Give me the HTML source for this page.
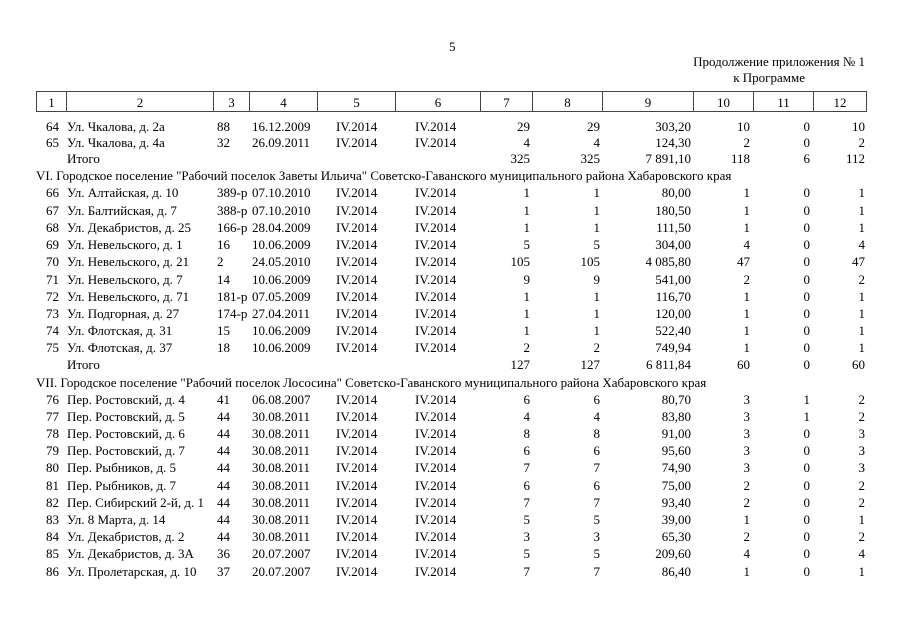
<!DOCTYPE html>
<html><head><meta charset="utf-8"><style>
body{margin:0;width:905px;height:640px;background:#fff;position:relative;font-family:"Liberation Serif",serif;font-size:13px;color:#000;overflow:hidden}
.a{position:absolute;white-space:nowrap;line-height:14px}
.r{position:absolute;left:0;width:905px;height:14px}
.r span{position:absolute;top:0;line-height:14px;white-space:nowrap}
.c1{left:30px;width:29px;text-align:right}.c2{left:67px}.c3{left:217px}.c4{left:252px}.c5{left:336px}.c6{left:415px}
.c7{left:478px;width:52px;text-align:right}.c8{left:532px;width:68px;text-align:right}.c9{left:602px;width:89px;text-align:right}
.c10{left:693px;width:57px;text-align:right}.c11{left:753px;width:57px;text-align:right}.c12{left:813px;width:52px;text-align:right}
.hd{position:absolute;top:91px;height:21px;border:1px solid #444;border-right:none;text-align:center;line-height:21px;box-sizing:border-box}
</style></head><body>
<div class="a" style="left:449px;top:40px">5</div>
<div class="a" style="left:600px;width:265px;text-align:right;top:55px">Продолжение приложения № 1</div>
<div class="a" style="left:600px;width:265px;text-align:right;top:71px"><span style="margin-right:60px">к Программе</span></div>

<div class="hd" style="left:36px;width:30px">1</div>
<div class="hd" style="left:66px;width:147px">2</div>
<div class="hd" style="left:213px;width:36px">3</div>
<div class="hd" style="left:249px;width:68px">4</div>
<div class="hd" style="left:317px;width:78px">5</div>
<div class="hd" style="left:395px;width:85px">6</div>
<div class="hd" style="left:480px;width:52px">7</div>
<div class="hd" style="left:532px;width:70px">8</div>
<div class="hd" style="left:602px;width:91px">9</div>
<div class="hd" style="left:693px;width:60px">10</div>
<div class="hd" style="left:753px;width:60px">11</div>
<div class="hd" style="left:813px;width:54px;border-right:1px solid #444">12</div>

<div class="r" style="top:120px"><span class="c1">64</span><span class="c2">Ул. Чкалова, д. 2а</span><span class="c3">88</span><span class="c4">16.12.2009</span><span class="c5">IV.2014</span><span class="c6">IV.2014</span><span class="c7">29</span><span class="c8">29</span><span class="c9">303,20</span><span class="c10">10</span><span class="c11">0</span><span class="c12">10</span></div>
<div class="r" style="top:136px"><span class="c1">65</span><span class="c2">Ул. Чкалова, д. 4а</span><span class="c3">32</span><span class="c4">26.09.2011</span><span class="c5">IV.2014</span><span class="c6">IV.2014</span><span class="c7">4</span><span class="c8">4</span><span class="c9">124,30</span><span class="c10">2</span><span class="c11">0</span><span class="c12">2</span></div>
<div class="r" style="top:152px"><span class="c2">Итого</span><span class="c7">325</span><span class="c8">325</span><span class="c9">7 891,10</span><span class="c10">118</span><span class="c11">6</span><span class="c12">112</span></div>
<div class="a" style="left:36px;top:169px">VI. Городское поселение "Рабочий поселок Заветы Ильича" Советско-Гаванского муниципального района Хабаровского края</div>
<div class="r" style="top:186px"><span class="c1">66</span><span class="c2">Ул. Алтайская, д. 10</span><span class="c3">389-р</span><span class="c4">07.10.2010</span><span class="c5">IV.2014</span><span class="c6">IV.2014</span><span class="c7">1</span><span class="c8">1</span><span class="c9">80,00</span><span class="c10">1</span><span class="c11">0</span><span class="c12">1</span></div>
<div class="r" style="top:204px"><span class="c1">67</span><span class="c2">Ул. Балтийская, д. 7</span><span class="c3">388-р</span><span class="c4">07.10.2010</span><span class="c5">IV.2014</span><span class="c6">IV.2014</span><span class="c7">1</span><span class="c8">1</span><span class="c9">180,50</span><span class="c10">1</span><span class="c11">0</span><span class="c12">1</span></div>
<div class="r" style="top:221px"><span class="c1">68</span><span class="c2">Ул. Декабристов, д. 25</span><span class="c3">166-р</span><span class="c4">28.04.2009</span><span class="c5">IV.2014</span><span class="c6">IV.2014</span><span class="c7">1</span><span class="c8">1</span><span class="c9">111,50</span><span class="c10">1</span><span class="c11">0</span><span class="c12">1</span></div>
<div class="r" style="top:238px"><span class="c1">69</span><span class="c2">Ул. Невельского, д. 1</span><span class="c3">16</span><span class="c4">10.06.2009</span><span class="c5">IV.2014</span><span class="c6">IV.2014</span><span class="c7">5</span><span class="c8">5</span><span class="c9">304,00</span><span class="c10">4</span><span class="c11">0</span><span class="c12">4</span></div>
<div class="r" style="top:255px"><span class="c1">70</span><span class="c2">Ул. Невельского, д. 21</span><span class="c3">2</span><span class="c4">24.05.2010</span><span class="c5">IV.2014</span><span class="c6">IV.2014</span><span class="c7">105</span><span class="c8">105</span><span class="c9">4 085,80</span><span class="c10">47</span><span class="c11">0</span><span class="c12">47</span></div>
<div class="r" style="top:273px"><span class="c1">71</span><span class="c2">Ул. Невельского, д. 7</span><span class="c3">14</span><span class="c4">10.06.2009</span><span class="c5">IV.2014</span><span class="c6">IV.2014</span><span class="c7">9</span><span class="c8">9</span><span class="c9">541,00</span><span class="c10">2</span><span class="c11">0</span><span class="c12">2</span></div>
<div class="r" style="top:290px"><span class="c1">72</span><span class="c2">Ул. Невельского, д. 71</span><span class="c3">181-р</span><span class="c4">07.05.2009</span><span class="c5">IV.2014</span><span class="c6">IV.2014</span><span class="c7">1</span><span class="c8">1</span><span class="c9">116,70</span><span class="c10">1</span><span class="c11">0</span><span class="c12">1</span></div>
<div class="r" style="top:307px"><span class="c1">73</span><span class="c2">Ул. Подгорная, д. 27</span><span class="c3">174-р</span><span class="c4">27.04.2011</span><span class="c5">IV.2014</span><span class="c6">IV.2014</span><span class="c7">1</span><span class="c8">1</span><span class="c9">120,00</span><span class="c10">1</span><span class="c11">0</span><span class="c12">1</span></div>
<div class="r" style="top:324px"><span class="c1">74</span><span class="c2">Ул. Флотская, д. 31</span><span class="c3">15</span><span class="c4">10.06.2009</span><span class="c5">IV.2014</span><span class="c6">IV.2014</span><span class="c7">1</span><span class="c8">1</span><span class="c9">522,40</span><span class="c10">1</span><span class="c11">0</span><span class="c12">1</span></div>
<div class="r" style="top:341px"><span class="c1">75</span><span class="c2">Ул. Флотская, д. 37</span><span class="c3">18</span><span class="c4">10.06.2009</span><span class="c5">IV.2014</span><span class="c6">IV.2014</span><span class="c7">2</span><span class="c8">2</span><span class="c9">749,94</span><span class="c10">1</span><span class="c11">0</span><span class="c12">1</span></div>
<div class="r" style="top:358px"><span class="c2">Итого</span><span class="c7">127</span><span class="c8">127</span><span class="c9">6 811,84</span><span class="c10">60</span><span class="c11">0</span><span class="c12">60</span></div>
<div class="a" style="left:36px;top:376px">VII. Городское поселение "Рабочий поселок Лососина" Советско-Гаванского муниципального района Хабаровского края</div>
<div class="r" style="top:393px"><span class="c1">76</span><span class="c2">Пер. Ростовский, д. 4</span><span class="c3">41</span><span class="c4">06.08.2007</span><span class="c5">IV.2014</span><span class="c6">IV.2014</span><span class="c7">6</span><span class="c8">6</span><span class="c9">80,70</span><span class="c10">3</span><span class="c11">1</span><span class="c12">2</span></div>
<div class="r" style="top:410px"><span class="c1">77</span><span class="c2">Пер. Ростовский, д. 5</span><span class="c3">44</span><span class="c4">30.08.2011</span><span class="c5">IV.2014</span><span class="c6">IV.2014</span><span class="c7">4</span><span class="c8">4</span><span class="c9">83,80</span><span class="c10">3</span><span class="c11">1</span><span class="c12">2</span></div>
<div class="r" style="top:427px"><span class="c1">78</span><span class="c2">Пер. Ростовский, д. 6</span><span class="c3">44</span><span class="c4">30.08.2011</span><span class="c5">IV.2014</span><span class="c6">IV.2014</span><span class="c7">8</span><span class="c8">8</span><span class="c9">91,00</span><span class="c10">3</span><span class="c11">0</span><span class="c12">3</span></div>
<div class="r" style="top:444px"><span class="c1">79</span><span class="c2">Пер. Ростовский, д. 7</span><span class="c3">44</span><span class="c4">30.08.2011</span><span class="c5">IV.2014</span><span class="c6">IV.2014</span><span class="c7">6</span><span class="c8">6</span><span class="c9">95,60</span><span class="c10">3</span><span class="c11">0</span><span class="c12">3</span></div>
<div class="r" style="top:461px"><span class="c1">80</span><span class="c2">Пер. Рыбников, д. 5</span><span class="c3">44</span><span class="c4">30.08.2011</span><span class="c5">IV.2014</span><span class="c6">IV.2014</span><span class="c7">7</span><span class="c8">7</span><span class="c9">74,90</span><span class="c10">3</span><span class="c11">0</span><span class="c12">3</span></div>
<div class="r" style="top:479px"><span class="c1">81</span><span class="c2">Пер. Рыбников, д. 7</span><span class="c3">44</span><span class="c4">30.08.2011</span><span class="c5">IV.2014</span><span class="c6">IV.2014</span><span class="c7">6</span><span class="c8">6</span><span class="c9">75,00</span><span class="c10">2</span><span class="c11">0</span><span class="c12">2</span></div>
<div class="r" style="top:496px"><span class="c1">82</span><span class="c2">Пер. Сибирский 2-й, д. 1</span><span class="c3">44</span><span class="c4">30.08.2011</span><span class="c5">IV.2014</span><span class="c6">IV.2014</span><span class="c7">7</span><span class="c8">7</span><span class="c9">93,40</span><span class="c10">2</span><span class="c11">0</span><span class="c12">2</span></div>
<div class="r" style="top:513px"><span class="c1">83</span><span class="c2">Ул. 8 Марта, д. 14</span><span class="c3">44</span><span class="c4">30.08.2011</span><span class="c5">IV.2014</span><span class="c6">IV.2014</span><span class="c7">5</span><span class="c8">5</span><span class="c9">39,00</span><span class="c10">1</span><span class="c11">0</span><span class="c12">1</span></div>
<div class="r" style="top:530px"><span class="c1">84</span><span class="c2">Ул. Декабристов, д. 2</span><span class="c3">44</span><span class="c4">30.08.2011</span><span class="c5">IV.2014</span><span class="c6">IV.2014</span><span class="c7">3</span><span class="c8">3</span><span class="c9">65,30</span><span class="c10">2</span><span class="c11">0</span><span class="c12">2</span></div>
<div class="r" style="top:547px"><span class="c1">85</span><span class="c2">Ул. Декабристов, д. 3А</span><span class="c3">36</span><span class="c4">20.07.2007</span><span class="c5">IV.2014</span><span class="c6">IV.2014</span><span class="c7">5</span><span class="c8">5</span><span class="c9">209,60</span><span class="c10">4</span><span class="c11">0</span><span class="c12">4</span></div>
<div class="r" style="top:565px"><span class="c1">86</span><span class="c2">Ул. Пролетарская, д. 10</span><span class="c3">37</span><span class="c4">20.07.2007</span><span class="c5">IV.2014</span><span class="c6">IV.2014</span><span class="c7">7</span><span class="c8">7</span><span class="c9">86,40</span><span class="c10">1</span><span class="c11">0</span><span class="c12">1</span></div>
</body></html>
